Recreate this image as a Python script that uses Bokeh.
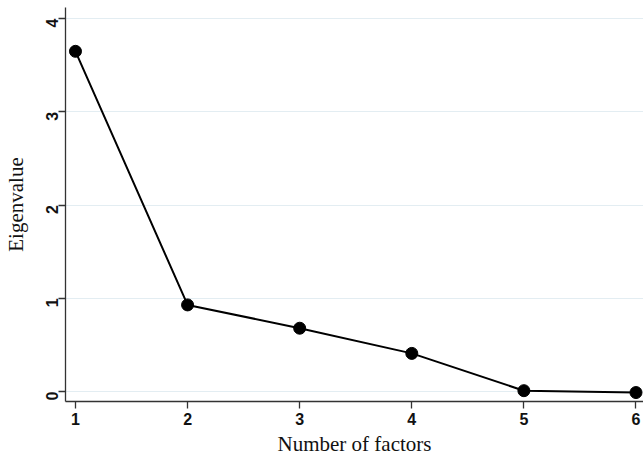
import math
from bokeh.plotting import figure
from bokeh.models import Range1d, FixedTicker
from bokeh.embed import file_html
from bokeh.resources import INLINE

factors = [1, 2, 3, 4, 5, 6]
eigenvalues = [3.65, 0.93, 0.68, 0.41, 0.01, -0.01]
x_ticks = [1, 2, 3, 4, 5, 6]
y_ticks = [0, 1, 2, 3, 4]

p = figure(width=643, height=458, output_backend="svg", toolbar_location=None,
           x_range=Range1d(0.911, 6.067), y_range=Range1d(-0.106, 4.12),
           min_border_left=64, min_border_right=0, min_border_top=7, min_border_bottom=53)
p.outline_line_color = None
p.background_fill_color = "white"

p.line(factors, eigenvalues, line_color="black", line_width=2)
p.scatter(factors, eigenvalues, size=12, fill_color="black", line_color="black")

p.xgrid.grid_line_color = None
p.ygrid.grid_line_color = "#e3edf2"
p.ygrid.grid_line_width = 1

p.xaxis.ticker = FixedTicker(ticks=x_ticks)
p.yaxis.ticker = FixedTicker(ticks=y_ticks)
for ax in (p.xaxis, p.yaxis):
    ax.axis_line_color = "#333333"
    ax.axis_line_width = 1.3
    ax.major_tick_line_color = "#333333"
    ax.major_tick_line_width = 1.3
    ax.major_tick_out = 7
    ax.major_tick_in = 0
    ax.minor_tick_line_color = None
    ax.major_label_text_font = "Liberation Sans"
    ax.major_label_text_font_size = "16px"
    ax.major_label_text_font_style = "bold"
    ax.major_label_text_color = "#111111"
    ax.axis_label_text_font = "Liberation Serif"
    ax.axis_label_text_font_size = "21px"
    ax.axis_label_text_font_style = "normal"
    ax.axis_label_text_color = "#111111"

p.yaxis.major_label_orientation = math.pi / 2
p.xaxis.axis_label = "Number of factors"
p.yaxis.axis_label = "Eigenvalue"
p.xaxis.major_label_standoff = 4
p.yaxis.major_label_standoff = 6
p.xaxis.axis_label_standoff = 4
p.yaxis.axis_label_standoff = 10

open("out.html", "w").write(file_html(p, INLINE))
